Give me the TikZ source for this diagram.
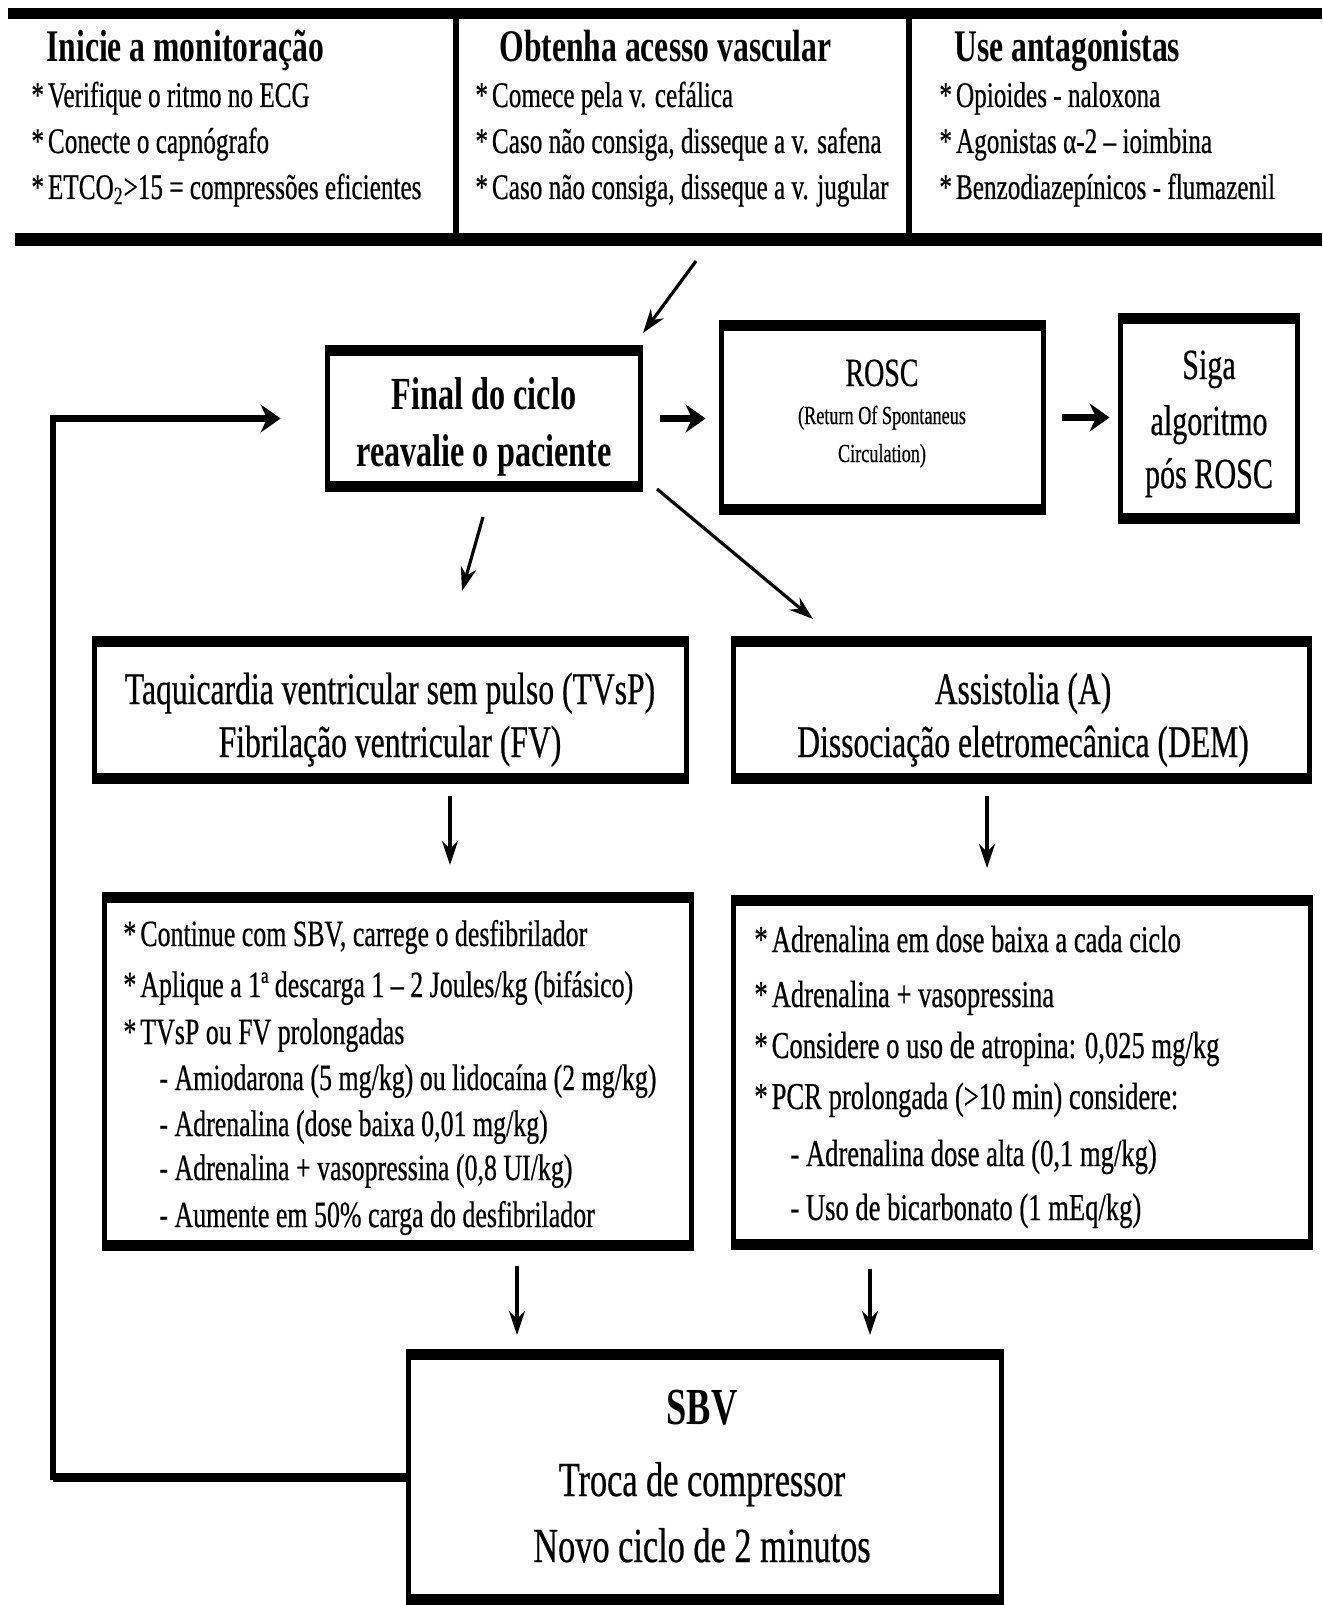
\documentclass[tikz,border=0pt]{standalone}
\usepackage{fontspec}
\setmainfont{Liberation Serif}[FakeStretch=0.7, UprightFeatures={FakeBold=0.5}]
\usetikzlibrary{arrows.meta}
\tikzset{
  txt/.style={inner sep=0pt, anchor=base west},
  ctxt/.style={inner sep=0pt, anchor=base},
  head/.style={txt, font=\bfseries\fontsize{22.6}{26}\selectfont},
  item/.style={txt, font=\fontsize{18}{22}\selectfont},
  litem/.style={txt, font=\fontsize{18.5}{22}\selectfont},
  ritem/.style={txt, font=\fontsize{19}{22}\selectfont},
  boldc/.style={ctxt, font=\bfseries\fontsize{23}{26}\selectfont},
  normc/.style={ctxt, font=\fontsize{22.6}{26}\selectfont},
  smallc/.style={ctxt, font=\fontsize{13}{15}\selectfont},
  arr/.style={line width=1.6pt, -{Stealth[length=12pt,width=8pt]}},
  harr/.style={line width=3.5pt, -{Stealth[length=10pt,width=14pt]}},
  frm/.style={inner sep=0pt, draw=none},
}
\newcommand\mkbox[5]{%
  \node[frm, minimum width={(#4-#2)*0.5pt}, minimum height={(#5-#3)*0.5pt}] (#1) at ({(#2+#4)/2},{(#3+#5)/2}) {};
  \fill (#1.north west) rectangle ([yshift=-5.5pt]#1.north east);
  \fill (#1.south west) rectangle ([yshift=5.5pt]#1.south east);
  \fill (#1.north west) rectangle ([xshift=2.75pt]#1.south west);
  \fill ([xshift=-2.75pt]#1.north east) rectangle (#1.south east);
}
\begin{document}
\begin{tikzpicture}[x=0.5pt,y=-0.5pt]
\fill[white] (0,0) rectangle (1322,1605);
\useasboundingbox (0,0) rectangle (1322,1605);

% top band
\node[frm, minimum width={(1322-8)*0.5pt}, minimum height={(246-8)*0.5pt}] (band) at ({(8+1322)/2},{(8+246)/2}) {};
\fill (8,8) rectangle (1322,19);
\fill (15,233) rectangle (1322,246);
\fill (453,19) rectangle (459,233);
\fill (906,19) rectangle (912,233);

\node[head] (h1) at (46,62) {Inicie a monitoração};
\node[item] (h1a) at (31,107) {*\kern2pt Verifique o ritmo no ECG};
\node[item] (h1b) at (31,153) {*\kern2pt Conecte o capnógrafo};
\node[item] (h1c) at (31,199) {*\kern2pt ETCO\textsubscript{2}>15 = compressões eficientes};

\node[head] (h2) at (499,62) {Obtenha acesso vascular};
\node[item] (h2a) at (475,107) {*\kern2pt Comece pela v. cefálica};
\node[item] (h2b) at (475,153) {*\kern2pt Caso não consiga, disseque a v. safena};
\node[item] (h2c) at (475,199) {*\kern2pt Caso não consiga, disseque a v. jugular};

\node[head] (h3) at (954,62) {Use antagonistas};
\node[item] (h3a) at (939,107) {*\kern2pt Opioides - naloxona};
\node[item] (h3b) at (939,153) {*\kern2pt Agonistas α-2 – ioimbina};
\node[item] (h3c) at (939,199) {*\kern2pt Benzodiazepínicos - flumazenil};

% boxes
\mkbox{fin}{325}{345}{643}{492}
\mkbox{rosc}{719}{320}{1046}{515}
\mkbox{siga}{1118}{313}{1300}{524}
\mkbox{tv}{92}{636}{689}{784}
\mkbox{as}{731}{636}{1312}{784}
\mkbox{ll}{102}{892}{694}{1251}
\mkbox{rl}{731}{895}{1313}{1250}
\mkbox{sbv}{406}{1349}{1004}{1605}

\node[boldc] (f1) at (484,409) {Final do ciclo};
\node[boldc] (f2) at (484,466) {reavalie o paciente};

\node[ctxt, font=\fontsize{20}{24}\selectfont] (r1) at (882,386) {ROSC};
\node[smallc] (r2) at (882,424) {(Return Of Spontaneus};
\node[smallc] (r3) at (882,462) {Circulation)};

\node[ctxt, font=\fontsize{21.5}{24}\selectfont] (s1) at (1209,379) {Siga};
\node[ctxt, font=\fontsize{21.5}{24}\selectfont] (s2) at (1209,435) {algoritmo};
\node[ctxt, font=\fontsize{21.5}{24}\selectfont] (s3) at (1209,488) {pós ROSC};

\node[normc] (t1) at (390,704) {Taquicardia ventricular sem pulso (TVsP)};
\node[normc] (t2) at (390,757) {Fibrilação ventricular (FV)};
\node[normc] (a1) at (1023,704) {Assistolia (A)};
\node[normc] (a2) at (1023,757) {Dissociação eletromecânica (DEM)};

\node[litem] (l1) at (123,946) {*\kern2pt Continue com SBV, carrege o desfibrilador};
\node[litem] (l2) at (123,997) {*\kern2pt Aplique a 1ª descarga 1 – 2 Joules/kg (bifásico)};
\node[litem] (l3) at (123,1044) {*\kern2pt TVsP ou FV prolongadas};
\node[litem] (l4) at (159,1090) {- Amiodarona (5 mg/kg) ou lidocaína (2 mg/kg)};
\node[litem] (l5) at (159,1136) {- Adrenalina (dose baixa 0,01 mg/kg)};
\node[litem] (l6) at (159,1180) {- Adrenalina + vasopressina (0,8 UI/kg)};
\node[litem] (l7) at (159,1227) {- Aumente em 50\% carga do desfibrilador};

\node[ritem] (q1) at (754,952) {*\kern2pt Adrenalina em dose baixa a cada ciclo};
\node[ritem] (q2) at (754,1007) {*\kern2pt Adrenalina + vasopressina};
\node[ritem] (q3) at (754,1058) {*\kern2pt Considere o uso de atropina: 0,025 mg/kg};
\node[ritem] (q4) at (754,1109) {*\kern2pt PCR prolongada (>10 min) considere:};
\node[ritem] (q5) at (790,1166) {- Adrenalina dose alta (0,1 mg/kg)};
\node[ritem] (q6) at (790,1220) {- Uso de bicarbonato (1 mEq/kg)};

\node[ctxt, font=\bfseries\fontsize{26}{30}\selectfont] (b1) at (702,1424) {SBV};
\node[ctxt, font=\fontsize{24.5}{28}\selectfont] (b2) at (702,1496) {Troca de compressor};
\node[ctxt, font=\fontsize{24.5}{28}\selectfont] (b3) at (702,1562) {Novo ciclo de 2 minutos};

% arrows
\coordinate (c1s) at (696,261); \coordinate (c1e) at (643,333);
\coordinate (c2s) at (483,517); \coordinate (c2e) at (462,591);
\coordinate (c3s) at (657,489); \coordinate (c3e) at (813,619);
\coordinate (c4s) at (450,796); \coordinate (c4e) at (450,865);
\coordinate (c5s) at (987,796); \coordinate (c5e) at (987,868);
\coordinate (c6s) at (517,1266); \coordinate (c6e) at (517,1335);
\coordinate (c7s) at (870,1269); \coordinate (c7e) at (870,1335);
\coordinate (lp) at (53,1477);
\draw[arr] (c1s) -- (c1e);
\draw[arr] (c2s) -- (c2e);
\draw[arr] (c3s) -- (c3e);
\draw[arr] (c4s) -- (c4e);
\draw[arr] (c5s) -- (c5e);
\draw[arr] (c6s) -- (c6e);
\draw[arr] (c7s) -- (c7e);

\draw[harr, shorten <=8.5pt, shorten >=6.5pt] (fin.east) -- (fin.east -| rosc.west);
\draw[harr, shorten <=8pt, shorten >=4pt] (rosc.east) -- (rosc.east -| siga.west);
\draw[line width=2.75pt] (sbv.west) -- (lp) -- (lp |- fin.west);
\draw[line width=4.5pt] (sbv.west) -- (lp);
\draw[harr, shorten >=22pt] ([xshift=-1.37pt]lp |- fin.west) -- (fin.west);
\end{tikzpicture}
\end{document}
